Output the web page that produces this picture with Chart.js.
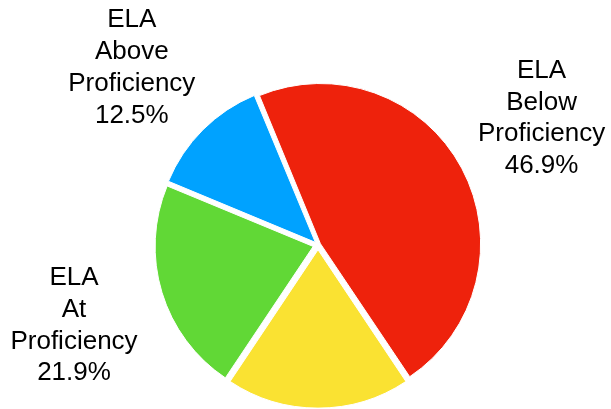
<!DOCTYPE html>
<html>
<head>
<meta charset="utf-8">
<script src="https://cdn.jsdelivr.net/npm/chart.js@4.4.0/dist/chart.umd.min.js"></script>
<style>
  html, body { margin: 0; padding: 0; background: #fff; }
  #wrap { width: 611px; height: 409px; }
</style>
</head>
<body>
<div id="wrap"><canvas id="chartEla"></canvas></div>
<script>
// ELA proficiency split (out of 32 students)
const categories = [
  ['ELA', 'Below', 'Proficiency'],
  ['ELA', 'Approaching', 'Proficiency'],
  ['ELA', 'At', 'Proficiency'],
  ['ELA', 'Above', 'Proficiency']
];
const counts = [15, 6, 7, 4];
const colors = ['#EE220C', '#FAE232', '#61D836', '#00A2FF'];

// outside labels: name lines + percentage
const outsideLabels = {
  id: 'outsideLabels',
  afterDraw(chart) {
    const ctx = chart.ctx;
    const meta = chart.getDatasetMeta(0);
    const total = counts.reduce((a, b) => a + b, 0);
    ctx.save();
    ctx.font = '26px "Liberation Sans", Arial, sans-serif';
    ctx.fillStyle = '#000';
    ctx.textAlign = 'center';
    ctx.textBaseline = 'middle';
    meta.data.forEach((arc, i) => {
      const mid = (arc.startAngle + arc.endAngle) / 2 - 0.025;
      const dist = arc.outerRadius + 99;
      const cx = arc.x + Math.cos(mid) * dist;
      const cy = arc.y + Math.sin(mid) * dist;
      const lines = categories[i].concat([(counts[i] / total * 100).toFixed(1) + '%']);
      const lh = 31.7;
      lines.forEach((t, k) => {
        ctx.fillText(t, cx, cy + (k - (lines.length - 1) / 2) * lh);
      });
    });
    ctx.restore();
  }
};

new Chart(document.getElementById('chartEla'), {
  type: 'pie',
  data: {
    labels: categories.map(c => c.join(' ')),
    datasets: [{
      data: counts,
      backgroundColor: colors,
      borderColor: '#fff',
      borderWidth: 1,
      offset: [11, 19, 20, 15]
    }]
  },
  options: {
    responsive: true,
    maintainAspectRatio: false,
    animation: false,
    events: [],
    rotation: -22.5,
    radius: 158,
    layout: { padding: { left: 25, right: 0, top: 81, bottom: 0 } },
    plugins: {
      legend: { display: false },
      tooltip: { enabled: false }
    }
  },
  plugins: [outsideLabels]
});
</script>
</body>
</html>
